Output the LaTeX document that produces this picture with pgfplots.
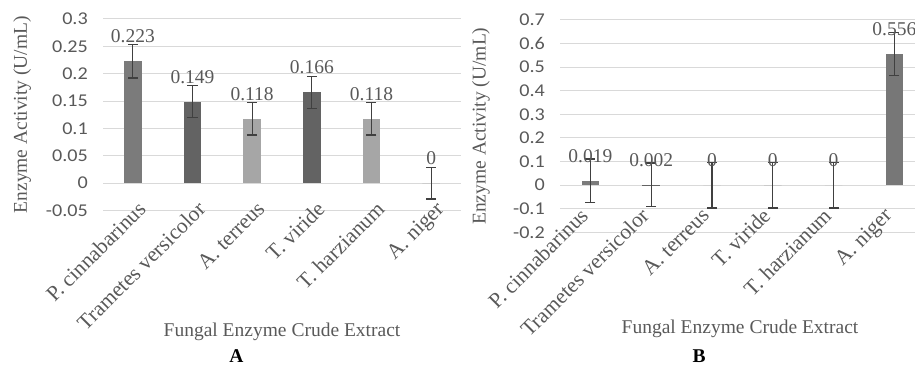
\documentclass[border=0pt]{standalone}
\usepackage{pgfplots}
\pgfplotsset{compat=1.18}
\usepackage{fontspec}
\setmainfont{Liberation Serif}
\newfontfamily\tickfont[FakeStretch=1.12]{Carlito}
\definecolor{txt}{HTML}{595959}
\definecolor{gridc}{HTML}{D9D9D9}
\definecolor{errc}{HTML}{404040}
\definecolor{cA}{HTML}{7B7B7B}
\definecolor{cB}{HTML}{636363}
\definecolor{cC}{HTML}{A6A6A6}
\definecolor{cN}{HTML}{777777}
\newcommand\serifsz{\fontsize{19.5bp}{22bp}\selectfont}
\newcommand\xtsz{\fontsize{21.5bp}{24bp}\selectfont}
\newcommand\ticksz{\tickfont\fontsize{18bp}{20bp}\selectfont}
\begin{document}
\begin{tikzpicture}
\useasboundingbox (0,0) rectangle (915bp,365bp);
\pgfplotsset{
  mystyle/.style={
    scale only axis, ybar, bar width=17.5bp,
    axis line style={draw=none}, major tick length=0pt,
    ymajorgrids, grid style={draw=gridc, line width=1bp},
    xtick={0,...,5},
    xticklabels={P. cinnabarinus, Trametes versicolor, A. terreus, T. viride, T. harzianum, A. niger},
    xticklabel style={rotate=45, anchor=north east, font=\xtsz, text=txt, inner sep=0pt, xshift=10bp},
    yticklabel style={font=\ticksz, text=txt, anchor=east, inner sep=0pt, xshift=-15bp},
    ylabel={Enzyme Activity (U/mL)},
    every axis y label/.style={at={(axis description cs:#1,0.5)}, rotate=90, anchor=center, font=\serifsz, text=txt},
    clip=false,
    every node near coord/.append style={font=\serifsz, text=txt, anchor=south, inner sep=0pt, yshift=18bp},
    error bars/error bar style={line width=1.2bp, draw=errc},
    error bars/error mark=|,
    error bars/error mark options={line width=1.2bp, draw=errc, mark size=5bp},
  },
  bar/.style={fill=#1, draw=none, bar shift=0pt},
}
% Panel A
\begin{axis}[mystyle=-0.226, at={(103bp,154.5bp)}, anchor=south west,
  width=358bp, height=191.5bp, xmin=-0.5, xmax=5.5, ymin=-0.05, ymax=0.3,
  xticklabel style={yshift=5bp},
  ytick={-0.05,0,0.05,0.1,0.15,0.2,0.25,0.3},
  yticklabels={-0.05,0,0.05,0.1,0.15,0.2,0.25,0.3}]
\addplot[bar=cA, nodes near coords={0.223}, error bars/.cd, y dir=both, y explicit] coordinates {(0,0.223) +- (0,0.031)};
\addplot[bar=cB, nodes near coords={0.149}, error bars/.cd, y dir=both, y explicit] coordinates {(1,0.149) +- (0,0.029)};
\addplot[bar=cC, nodes near coords={0.118}, error bars/.cd, y dir=both, y explicit] coordinates {(2,0.118) +- (0,0.030)};
\addplot[bar=cB, nodes near coords={0.166}, error bars/.cd, y dir=both, y explicit] coordinates {(3,0.166) +- (0,0.029)};
\addplot[bar=cC, nodes near coords={0.118}, error bars/.cd, y dir=both, y explicit] coordinates {(4,0.118) +- (0,0.030)};
\addplot[bar=cN, nodes near coords={0}, error bars/.cd, y dir=both, y explicit] coordinates {(5,0) +- (0,0.029)};
\end{axis}
% Panel B
\begin{axis}[mystyle=-0.2225, at={(560bp,132.7bp)}, anchor=south west,
  width=355bp, height=212.3bp, xmin=-0.5, xmax=5.339, ymin=-0.2, ymax=0.7,
  xticklabel style={yshift=26.5bp},
  ytick={-0.2,-0.1,0,0.1,0.2,0.3,0.4,0.5,0.6,0.7},
  yticklabels={-0.2,-0.1,0,0.1,0.2,0.3,0.4,0.5,0.6,0.7}]
\addplot[bar=cA, nodes near coords={0.019}, error bars/.cd, y dir=both, y explicit] coordinates {(0,0.019) +- (0,0.092)};
\addplot[bar=cB, nodes near coords={0.002}, error bars/.cd, y dir=both, y explicit] coordinates {(1,0.002) +- (0,0.092)};
\addplot[bar=cC, nodes near coords={0}, error bars/.cd, y dir=both, y explicit] coordinates {(2,0) +- (0,0.097)};
\addplot[bar=cB, nodes near coords={0}, error bars/.cd, y dir=both, y explicit] coordinates {(3,0) +- (0,0.097)};
\addplot[bar=cC, nodes near coords={0}, error bars/.cd, y dir=both, y explicit] coordinates {(4,0) +- (0,0.097)};
\addplot[bar=cN, nodes near coords={0.556}, error bars/.cd, y dir=both, y explicit] coordinates {(5,0.556) +- (0,0.090)};
\end{axis}
\node[font=\serifsz, text=txt, anchor=base] at (282bp,29bp) {Fungal Enzyme Crude Extract};
\node[font=\serifsz, text=txt, anchor=base] at (740bp,32bp) {Fungal Enzyme Crude Extract};
\node[font=\serifsz\bfseries, anchor=base] at (236.5bp,2.5bp) {A};
\node[font=\serifsz\bfseries, anchor=base] at (699bp,2.5bp) {B};
\end{tikzpicture}
\end{document}
